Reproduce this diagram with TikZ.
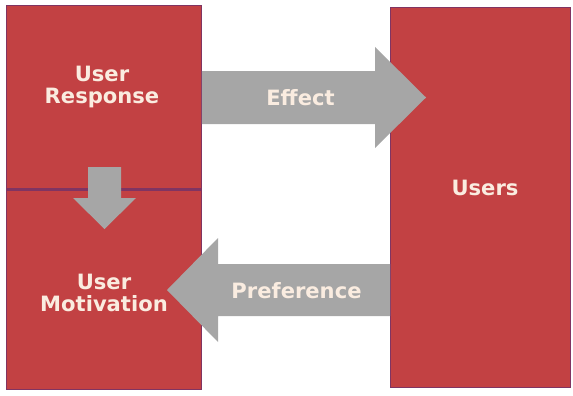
\documentclass[tikz,border=0pt]{standalone}
\usepackage{fontspec}
\setmainfont{DejaVu Sans}
\usepackage{xcolor}
\usepackage{tikz}

\definecolor{boxred}{RGB}{194,65,67}
\definecolor{boxline}{RGB}{128,52,98}
\definecolor{arrgray}{RGB}{166,166,166}
\definecolor{txtcream}{RGB}{250,236,224}

\begin{document}
\begin{tikzpicture}[x=0.02cm, y=-0.02cm,
    redbox/.style={fill=boxred, draw=boxline, line width=0.02cm, inner sep=0pt, outer sep=0pt, anchor=north west},
    lbl/.style={text=txtcream, font=\fontsize{12}{12.8}\selectfont\bfseries, align=center, inner sep=0pt},
    blockarrow/.style={fill=arrgray}]
    \useasboundingbox (0,0) rectangle (573,395);
    % the three red boxes
    \node[redbox, minimum width=3.92cm, minimum height=3.68cm] (resp) at (6,6) {};
    \node[redbox, minimum width=3.92cm, minimum height=4cm] (motiv) at (6,190) {};
    \node[redbox, minimum width=3.62cm, minimum height=7.6cm] (users) at (390,8) {};
    \draw[boxline, line width=0.06cm] (resp.south west) -- (resp.south east);
    % block arrows
    \fill[blockarrow] (resp.east |- 0,71) -- (375,71) -- (375,47) -- (426,97.5)
        -- (375,148) -- (375,124) -- (resp.east |- 0,124) -- cycle;
    \fill[blockarrow] (users.west |- 0,264) -- (218,264) -- (218,238) -- (167,290)
        -- (218,342) -- (218,316) -- (users.west |- 0,316) -- cycle;
    \fill[blockarrow] (88,167) -- (121,167) -- (121,198) -- (136,198) -- (104.5,229)
        -- (73,198) -- (88,198) -- cycle;
    % labels
    \node[lbl] (resptxt) at (102,87) {User\\Response};
    \node[lbl] (motivtxt) at (104,293) {User\\Motivation};
    \node[lbl] (userstxt) at (485,188) {Users};
    \node[lbl] (efftxt) at (300.5,97.5) {Effect};
    \node[lbl] (preftxt) at (296.5,291) {Preference};
\end{tikzpicture}
\end{document}
